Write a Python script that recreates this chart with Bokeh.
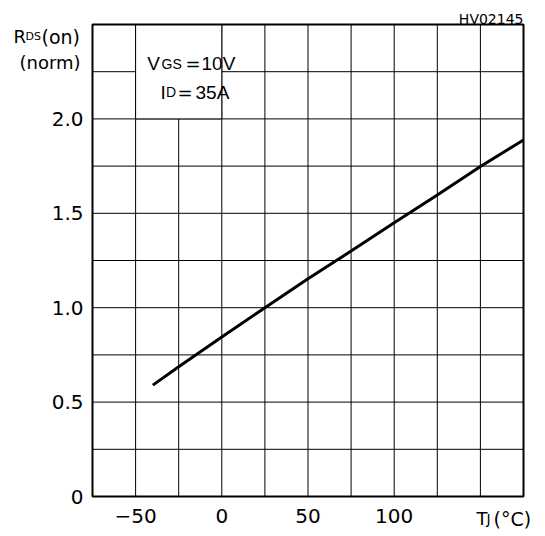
from bokeh.plotting import figure
from bokeh.models import FixedTicker, Label, Range1d
from bokeh.embed import file_html
from bokeh.resources import INLINE

# data
temp_c = [-40, -25, 0, 25, 50, 75, 100, 125, 150, 175]
rds_norm = [0.59, 0.687, 0.845, 1.0, 1.153, 1.30, 1.45, 1.597, 1.748, 1.888]

x_ticks = [-50, 0, 50, 100]
x_tick_labels = ["\u221250", "0", "50", "100"]
y_ticks = [0, 0.5, 1.0, 1.5, 2.0]
y_tick_labels = ["0", "0.5", "1.0", "1.5", "2.0"]
x_grid = [-50, -25, 0, 25, 50, 75, 100, 125, 150]
y_grid = [0.25, 0.5, 0.75, 1.0, 1.25, 1.5, 1.75, 2.0, 2.25]
x_lim = (-75, 175)
y_lim = (0, 2.5)

TICK_FONT = "DejaVu Sans"
BOX_FONT = "Liberation Sans"

# layout: chart area in canvas pixels
W, H = 545, 536
FL, FR, FT, FB = 92, 523, 24, 496
XPX = (x_lim[1] - x_lim[0]) / (FR - FL)
YPX = (y_lim[1] - y_lim[0]) / (FB - FT)


def dx(px):
    return x_lim[0] + (px - FL) * XPX


def dy(py):
    return y_lim[0] + (FB - py) * YPX


p = figure(width=W, height=H, output_backend="svg", toolbar_location=None,
           x_range=Range1d(dx(0), dx(W)), y_range=Range1d(dy(H), dy(0)),
           min_border=0)
p.background_fill_color = "white"
p.border_fill_color = "white"
p.outline_line_color = None
p.xgrid.visible = False
p.ygrid.visible = False

for ax in (p.xaxis[0], p.yaxis[0]):
    ax.axis_line_color = None
    ax.major_tick_out = 0
    ax.major_tick_in = 0
    ax.minor_tick_out = 0
    ax.minor_tick_in = 0
    ax.major_label_text_font = TICK_FONT
    ax.major_label_text_font_size = "20px"
    ax.major_label_text_color = "black"

p.xaxis[0].fixed_location = y_lim[0]
p.xaxis[0].ticker = FixedTicker(ticks=x_ticks)
p.xaxis[0].major_label_overrides = dict(zip(x_ticks, x_tick_labels))
p.xaxis[0].major_label_standoff = 12
p.yaxis[0].fixed_location = x_lim[0]
p.yaxis[0].ticker = FixedTicker(ticks=y_ticks)
p.yaxis[0].major_label_overrides = dict(zip(y_ticks, y_tick_labels))
p.yaxis[0].major_label_standoff = 9

# grid lines inside the chart area
p.segment(x0=x_grid, y0=[y_lim[0]] * len(x_grid), x1=x_grid, y1=[y_lim[1]] * len(x_grid),
          line_color="black", line_width=1)
p.segment(x0=[x_lim[0]] * len(y_grid), y0=y_grid, x1=[x_lim[1]] * len(y_grid), y1=y_grid,
          line_color="black", line_width=1)

# condition box covering grid in top-left cell block
p.quad(left=[-50], right=[0], bottom=[2.0], top=[2.5], fill_color="white",
       line_color="black", line_width=1)

# chart border
p.quad(left=[x_lim[0]], right=[x_lim[1]], bottom=[y_lim[0]], top=[y_lim[1]],
       fill_color=None, line_color="black", line_width=2)

p.line(temp_c, rds_norm, line_color="black", line_width=3)


def lab(px, py, text, size, font=TICK_FONT, align="left"):
    p.add_layout(Label(x=dx(px), y=dy(py), text=text, text_font=font,
                       text_font_size=f"{size}px", text_color="black",
                       text_align=align, text_baseline="alphabetic"))


# y-axis title
lab(13, 36, "R", 18)
lab(25, 36, "DS", 11)
lab(41, 36, "(on)", 19)
lab(19, 62, "(norm)", 18)
# x-axis title
lab(476, 518, "T", 18)
lab(486, 518, "J", 14)
lab(493, 518, "(\u00b0C)", 19)
# figure id
lab(523, 18, "HV02145", 14, align="right")
# conditions
lab(146.7, 63.3, "V", 19, BOX_FONT)
lab(161, 63.3, "GS", 14, BOX_FONT)
lab(185, 63.3, "=", 18, TICK_FONT)
lab(201, 63.3, "10V", 19, BOX_FONT)
lab(160, 91.7, "I", 19, BOX_FONT)
lab(165.5, 91.7, "D", 14, BOX_FONT)
lab(177, 91.7, "=", 18, TICK_FONT)
lab(195, 91.7, "35A", 19, BOX_FONT)

open("out.html", "w").write(file_html(p, INLINE))
